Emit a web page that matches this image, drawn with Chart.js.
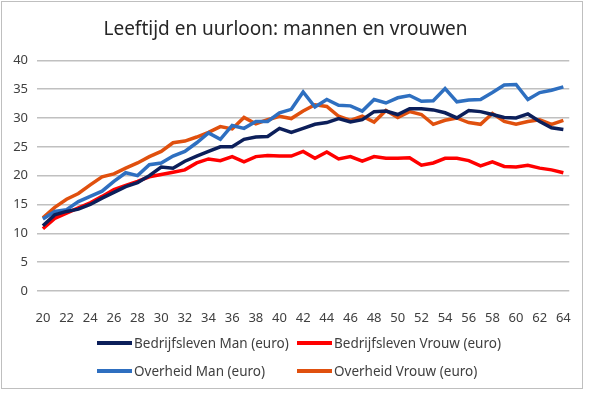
<!DOCTYPE html>
<html>
<head>
<meta charset="utf-8">
<script src="https://cdn.jsdelivr.net/npm/chart.js@4"></script>
<style>
  html, body { margin: 0; padding: 0; background: #fff; }
  #wrap { position: relative; width: 590px; height: 393px; }
  #frame { position: absolute; left: 1px; top: 1px; width: 582px; height: 388px;
           border: 1px solid #bfbfbf; box-sizing: border-box; pointer-events: none; }
  canvas { position: absolute; left: 0; top: 0; }
  .legend { position: absolute; font-family: 'Noto Sans', sans-serif; font-size: 13.5px; color: #404040; }
  .item { position: absolute; white-space: nowrap; display: flex; align-items: center; }
  .swatch { display: inline-block; width: 35px; height: 4px; margin-right: 2px; }
</style>
</head>
<body>
<div id="wrap">
  <canvas id="wageChart" width="590" height="393"></canvas>
  <div id="frame"></div>
  <div class="legend" id="legend"></div>
</div>
<script>
// ---- DATA ----
const ages = [20, 21, 22, 23, 24, 25, 26, 27, 28, 29, 30, 31, 32, 33, 34, 35, 36, 37, 38, 39,
  40, 41, 42, 43, 44, 45, 46, 47, 48, 49, 50, 51, 52, 53, 54, 55, 56, 57, 58, 59,
  60, 61, 62, 63, 64];

const bedrijfMan = [11.3, 13.2, 13.8, 14.2, 15.0, 16.1, 17.1, 18.1, 18.8, 20.0, 21.5, 21.3, 22.5, 23.4, 24.2,
  25.0, 25.0, 26.3, 26.7, 26.8, 28.2, 27.5, 28.2, 28.9, 29.2, 29.9, 29.3, 29.7, 31.1, 31.2,
  30.6, 31.6, 31.6, 31.4, 30.9, 30.0, 31.3, 31.1, 30.6, 30.1, 30.0, 30.7, 29.4, 28.3, 28.0];

const bedrijfVrouw = [10.8, 12.6, 13.5, 14.4, 15.3, 16.4, 17.6, 18.3, 19.0, 19.8, 20.2, 20.6, 21.0, 22.2, 22.9,
  22.6, 23.3, 22.4, 23.3, 23.5, 23.4, 23.4, 24.2, 23.0, 24.1, 22.9, 23.3, 22.5, 23.3, 23.0,
  23.0, 23.1, 21.8, 22.2, 23.0, 23.0, 22.6, 21.7, 22.4, 21.6, 21.5, 21.8, 21.3, 21.0, 20.5];

const overheidMan = [12.5, 13.8, 14.1, 15.5, 16.4, 17.3, 19.0, 20.5, 20.0, 21.9, 22.2, 23.4, 24.2, 25.7, 27.4,
  26.3, 28.7, 28.2, 29.4, 29.4, 30.9, 31.5, 34.5, 31.9, 33.2, 32.2, 32.1, 31.2, 33.2, 32.6,
  33.5, 33.9, 32.9, 33.0, 35.1, 32.8, 33.1, 33.2, 34.4, 35.7, 35.8, 33.2, 34.4, 34.8, 35.4];

const overheidVrouw = [12.7, 14.5, 15.9, 16.9, 18.4, 19.8, 20.3, 21.3, 22.2, 23.3, 24.2, 25.7, 26.0, 26.7, 27.5,
  28.5, 28.1, 30.1, 29.0, 29.7, 30.3, 29.9, 31.2, 32.3, 32.0, 30.3, 29.6, 30.3, 29.3, 31.3,
  30.1, 31.1, 30.6, 28.9, 29.6, 30.0, 29.2, 28.9, 30.8, 29.4, 28.9, 29.4, 29.7, 28.9, 29.6];

const seriesNames = ['Bedrijfsleven Man (euro)', 'Bedrijfsleven Vrouw (euro)', 'Overheid Man (euro)', 'Overheid Vrouw (euro)'];
const seriesColors = ['#0c1f5a', '#ff0000', '#2e6fc0', '#e0500e'];
const yTicks = [0, 5, 10, 15, 20, 25, 30, 35, 40];

const fontFamily = "'Noto Sans', sans-serif";

function makeSet(i, data) {
  return {
    label: seriesNames[i],
    data: data,
    borderColor: seriesColors[i],
    backgroundColor: seriesColors[i],
    borderWidth: 3.5,
    pointRadius: 0,
    tension: 0,
    fill: false
  };
}

new Chart(document.getElementById('wageChart'), {
  type: 'line',
  data: {
    labels: ages,
    datasets: [
      makeSet(0, bedrijfMan),
      makeSet(1, bedrijfVrouw),
      makeSet(2, overheidMan),
      makeSet(3, overheidVrouw)
    ]
  },
  options: {
    responsive: false,
    animation: false,
    layout: { padding: { left: 0, right: 19, top: 0, bottom: 62 } },
    plugins: {
      legend: { display: false },
      tooltip: { enabled: false },
      title: {
        display: true,
        text: 'Leeftijd en uurloon: mannen en vrouwen',
        color: '#262626',
        font: { family: fontFamily, size: 19, weight: 'normal' },
        padding: { top: 18, bottom: 19.5 }
      }
    },
    scales: {
      x: {
        offset: true,
        grid: { display: false, drawTicks: false },
        border: { display: false },
        ticks: {
          autoSkip: false,
          maxRotation: 0,
          padding: 19,
          color: '#404040',
          font: { family: fontFamily, size: 13 },
          callback: function(val, idx) {
            return idx % 2 === 0 ? ages[idx] : '';
          }
        },
        afterFit: s => { s.height = 40; }
      },
      y: {
        min: 0,
        max: 40,
        afterBuildTicks: s => { s.ticks = yTicks.map(v => ({ value: v })); },
        grid: { color: '#c0c0c0', lineWidth: 1.5, drawTicks: false },
        border: { display: false },
        ticks: {
          padding: 9,
          color: '#404040',
          font: { family: fontFamily, size: 13 }
        },
        afterFit: s => { s.width = 37; }
      }
    }
  }
});

// ---- LEGEND (two columns, like the original) ----
const legendPos = [[97, 343], [297, 343], [97, 371], [297, 371]];
const legendEl = document.getElementById('legend');
seriesNames.forEach((name, i) => {
  const item = document.createElement('div');
  item.className = 'item';
  item.style.left = legendPos[i][0] + 'px';
  item.style.top = (legendPos[i][1] - 10) + 'px';
  item.style.height = '20px';
  item.innerHTML = '<span class="swatch" style="background:' + seriesColors[i] + '"></span><span>' + name + '</span>';
  legendEl.appendChild(item);
});
</script>
</body>
</html>
